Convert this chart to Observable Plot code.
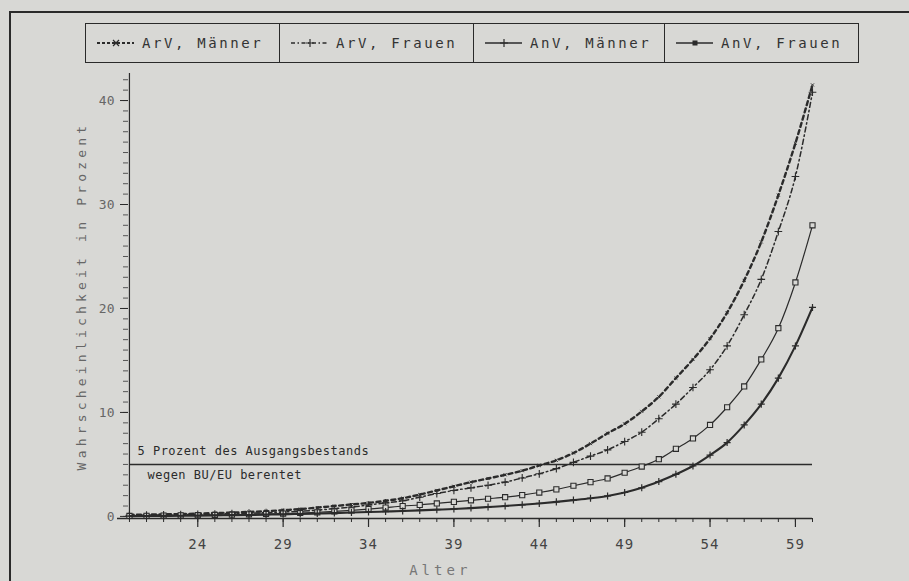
<!DOCTYPE html>
<html>
<head>
<meta charset="utf-8">
<script src="https://cdn.jsdelivr.net/npm/d3@7"></script>
<script src="https://cdn.jsdelivr.net/npm/@observablehq/plot@0.6"></script>
<style>
  html, body { margin: 0; padding: 0; background: #d8d8d5; }
  #wrap { position: relative; width: 909px; height: 581px; overflow: hidden; background: #d8d8d5; }
  #frame { position: absolute; left: 9px; top: 11px; width: 900px; height: 580px;
           border-left: 2px solid #2a2a2a; border-top: 2px solid #2a2a2a; box-sizing: border-box; }
  #legend { position: absolute; left: 85px; top: 23px; width: 774px; height: 40px;
            border: 1.5px solid #2a2a2a; box-sizing: border-box; display: flex;
            font-family: "DejaVu Sans Mono", monospace; font-size: 14px; letter-spacing: 2.6px; color: #333; }
  #legend .cell { display: flex; align-items: center; box-sizing: border-box; padding-left: 10px;
                  border-right: 1.2px solid #2a2a2a; }
  #legend .cell:last-child { border-right: none; }
  #legend svg { margin-right: 8px; }
  #chart { position: absolute; left: 0; top: 0; }
</style>
</head>
<body>
<div id="wrap">
  <div id="frame"></div>
  <div id="chart"></div>
  <div id="legend"></div>
</div>
<script>
// ---- data ----
const ages = [20,21,22,23,24,25,26,27,28,29,30,31,32,33,34,35,36,37,38,39,40,
              41,42,43,44,45,46,47,48,49,50,51,52,53,54,55,56,57,58,59,60];
const arvMaenner = [0.15,0.17,0.2,0.23,0.27,0.32,0.37,0.43,0.5,0.6,0.7,0.85,1.0,1.15,1.3,1.5,1.75,2.1,2.5,2.9,3.3,
                    3.65,4.0,4.4,4.9,5.4,6.1,7.0,8.0,8.9,10.1,11.5,13.3,15.1,17.1,19.6,22.7,26.4,30.9,35.9,41.5];
const arvFrauen  = [0.1,0.12,0.14,0.17,0.2,0.23,0.27,0.31,0.36,0.42,0.5,0.6,0.75,0.9,1.1,1.3,1.5,1.85,2.2,2.5,2.75,
                    3.0,3.3,3.7,4.1,4.6,5.2,5.8,6.4,7.2,8.1,9.4,10.8,12.4,14.1,16.4,19.4,22.8,27.4,32.7,40.8];
const anvMaenner = [0.03,0.04,0.05,0.06,0.08,0.1,0.12,0.14,0.17,0.2,0.24,0.28,0.32,0.37,0.42,0.47,0.52,0.58,0.65,0.72,0.8,
                    0.9,1.0,1.12,1.25,1.4,1.57,1.75,1.97,2.3,2.75,3.35,4.05,4.85,5.9,7.1,8.8,10.8,13.3,16.4,20.1];
const anvFrauen  = [0.05,0.06,0.08,0.1,0.12,0.14,0.17,0.2,0.24,0.28,0.33,0.4,0.48,0.58,0.7,0.85,1.0,1.1,1.25,1.4,1.55,
                    1.7,1.85,2.05,2.3,2.6,2.95,3.3,3.65,4.2,4.8,5.5,6.5,7.5,8.8,10.5,12.5,15.1,18.1,22.5,28.0];
const seriesNames = ["ArV, Männer", "ArV, Frauen", "AnV, Männer", "AnV, Frauen"];
const xTicks = [24,29,34,39,44,49,54,59];
const xMinorTicks = ages;
const yTicks = [0,10,20,30,40];
const yMinorTicks = [0,1,2,3,4,5,6,7,8,9,10,11,12,13,14,15,16,17,18,19,20,21,22,23,24,25,26,27,28,29,30,31,32,33,34,35,36,37,38,39,40,41,42];
const thresholdValue = [5];
const thresholdLabels = ["5 Prozent des Ausgangsbestands", "wegen BU/EU berentet"];
const xLabel = "Alter";
const yLabel = "Wahrscheinlichkeit in Prozent";

// ---- build tables ----
const toRows = (vals) => ages.map((a, i) => ({age: a, value: vals[i]}));
const rArvM = toRows(arvMaenner), rArvF = toRows(arvFrauen),
      rAnvM = toRows(anvMaenner), rAnvF = toRows(anvFrauen);

const ink = "#2b2b2b";
const mono = "DejaVu Sans Mono, monospace";

const chart = Plot.plot({
  width: 909, height: 581,
  marginLeft: 117, marginRight: 97, marginTop: 73, marginBottom: 63,
  style: {background: "transparent", fontFamily: mono, color: ink},
  x: {domain: [19.3, 60], axis: null, label: null},
  y: {domain: [-0.2, 42.6], axis: null, label: null},
  marks: [
    // axes
    Plot.ruleY([-0.2], {stroke: ink, strokeWidth: 1.5}),
    Plot.ruleX([ages[0]], {stroke: ink, strokeWidth: 1.2}),
    Plot.axisX({ticks: xMinorTicks, tickSize: 4, tickFormat: () => "", stroke: ink, strokeWidth: 1, label: null}),
    Plot.axisX({ticks: xTicks, tickSize: 9, tickPadding: 12, fontSize: 14, stroke: ink, strokeWidth: 1.2,
                fill: "#444", label: null, tickFormat: d => String(d)}),
    Plot.axisY({ticks: yMinorTicks, tickSize: 5, dx: 11, tickFormat: () => "", stroke: "#555", strokeWidth: 1, label: null}),
    Plot.axisY({ticks: yTicks, tickSize: 8, tickPadding: 6, dx: 11, fontSize: 13, fill: "#666",
                stroke: ink, label: null, tickFormat: d => String(d)}),
    Plot.text([xLabel], {frameAnchor: "bottom", dy: 56, x: () => 38.2, fontSize: 14, fill: "#777"}),
    Plot.text([yLabel], {frameAnchor: "left", textAnchor: "middle", dx: -36, rotate: -90, fontSize: 13, fill: "#666"}),
    // threshold
    Plot.ruleY(thresholdValue, {x1: ages[0], x2: ages[ages.length - 1], stroke: ink, strokeWidth: 1.4}),
    Plot.text(thresholdValue, {x: ages[0], y: d => d, text: () => thresholdLabels[0], dx: 8, dy: -13,
                               textAnchor: "start", fontSize: 12, fill: ink}),
    Plot.text(thresholdValue, {x: ages[0], y: d => d, text: () => thresholdLabels[1], dx: 18, dy: 11,
                               textAnchor: "start", fontSize: 12, fill: ink}),
    // series
    Plot.line(rArvM, {x: "age", y: "value", stroke: ink, strokeWidth: 2.4, strokeDasharray: "4,3.5", curve: "monotone-x"}),
    Plot.dot(rArvM, {x: "age", y: "value", symbol: "times", r: 1.5, stroke: ink, strokeWidth: 1}),
    Plot.line(rArvF, {x: "age", y: "value", stroke: ink, strokeWidth: 1.5, strokeDasharray: "5,3,1.5,3", curve: "monotone-x"}),
    Plot.dot(rArvF, {x: "age", y: "value", symbol: "plus", r: 2.6, stroke: ink, strokeWidth: 1.1}),
    Plot.line(rAnvF, {x: "age", y: "value", stroke: ink, strokeWidth: 1.2, curve: "monotone-x"}),
    Plot.dot(rAnvF, {x: "age", y: "value", symbol: "square", r: 2.9, stroke: ink, fill: "#d8d8d5", strokeWidth: 1.1}),
    Plot.line(rAnvM, {x: "age", y: "value", stroke: ink, strokeWidth: 2.1, curve: "monotone-x"}),
    Plot.dot(rAnvM, {x: "age", y: "value", symbol: "plus", r: 2.4, stroke: ink, strokeWidth: 1.2})
  ]
});
// letter spacing for typewriter-like labels
d3.select(chart).selectAll("text").each(function() {
  const t = this.textContent;
  if (t === yLabel) this.setAttribute("letter-spacing", "4.2");
  else if (t === xLabel) this.setAttribute("letter-spacing", "4");
  else if (thresholdLabels.includes(t)) this.setAttribute("letter-spacing", "0.5");
  else if (xTicks.map(String).includes(t)) this.setAttribute("letter-spacing", "1");
});
document.getElementById("chart").appendChild(chart);

// ---- legend ----
const legendStyles = [
  {dash: "3,2", w: 2.2, marker: "x"},
  {dash: "4,2.5,1.5,2.5", w: 1.4, marker: "plus"},
  {dash: null, w: 1.3, marker: "plus"},
  {dash: null, w: 1.6, marker: "dot"}
];
const cellWidths = [194, 194, 191, 193];
const legend = document.getElementById("legend");
seriesNames.forEach((name, i) => {
  const st = legendStyles[i];
  const cell = document.createElement("div");
  cell.className = "cell";
  cell.style.width = cellWidths[i] + "px";
  let m = "";
  if (st.marker === "x") m = `<path d="M17,4 L23,10 M23,4 L17,10" stroke="${ink}" stroke-width="1.2"/>`;
  if (st.marker === "plus") m = `<path d="M20,3 L20,11 M16,7 L24,7" stroke="${ink}" stroke-width="1.2"/>`;
  if (st.marker === "dot") m = `<rect x="17.5" y="4.5" width="5" height="5" fill="${ink}"/>`;
  cell.innerHTML = `<svg width="38" height="14"><line x1="1" y1="7" x2="38" y2="7" stroke="${ink}" stroke-width="${st.w}" ${st.dash ? `stroke-dasharray="${st.dash}"` : ""}/>${m}</svg><span>${name}</span>`;
  legend.appendChild(cell);
});
</script>
</body>
</html>
